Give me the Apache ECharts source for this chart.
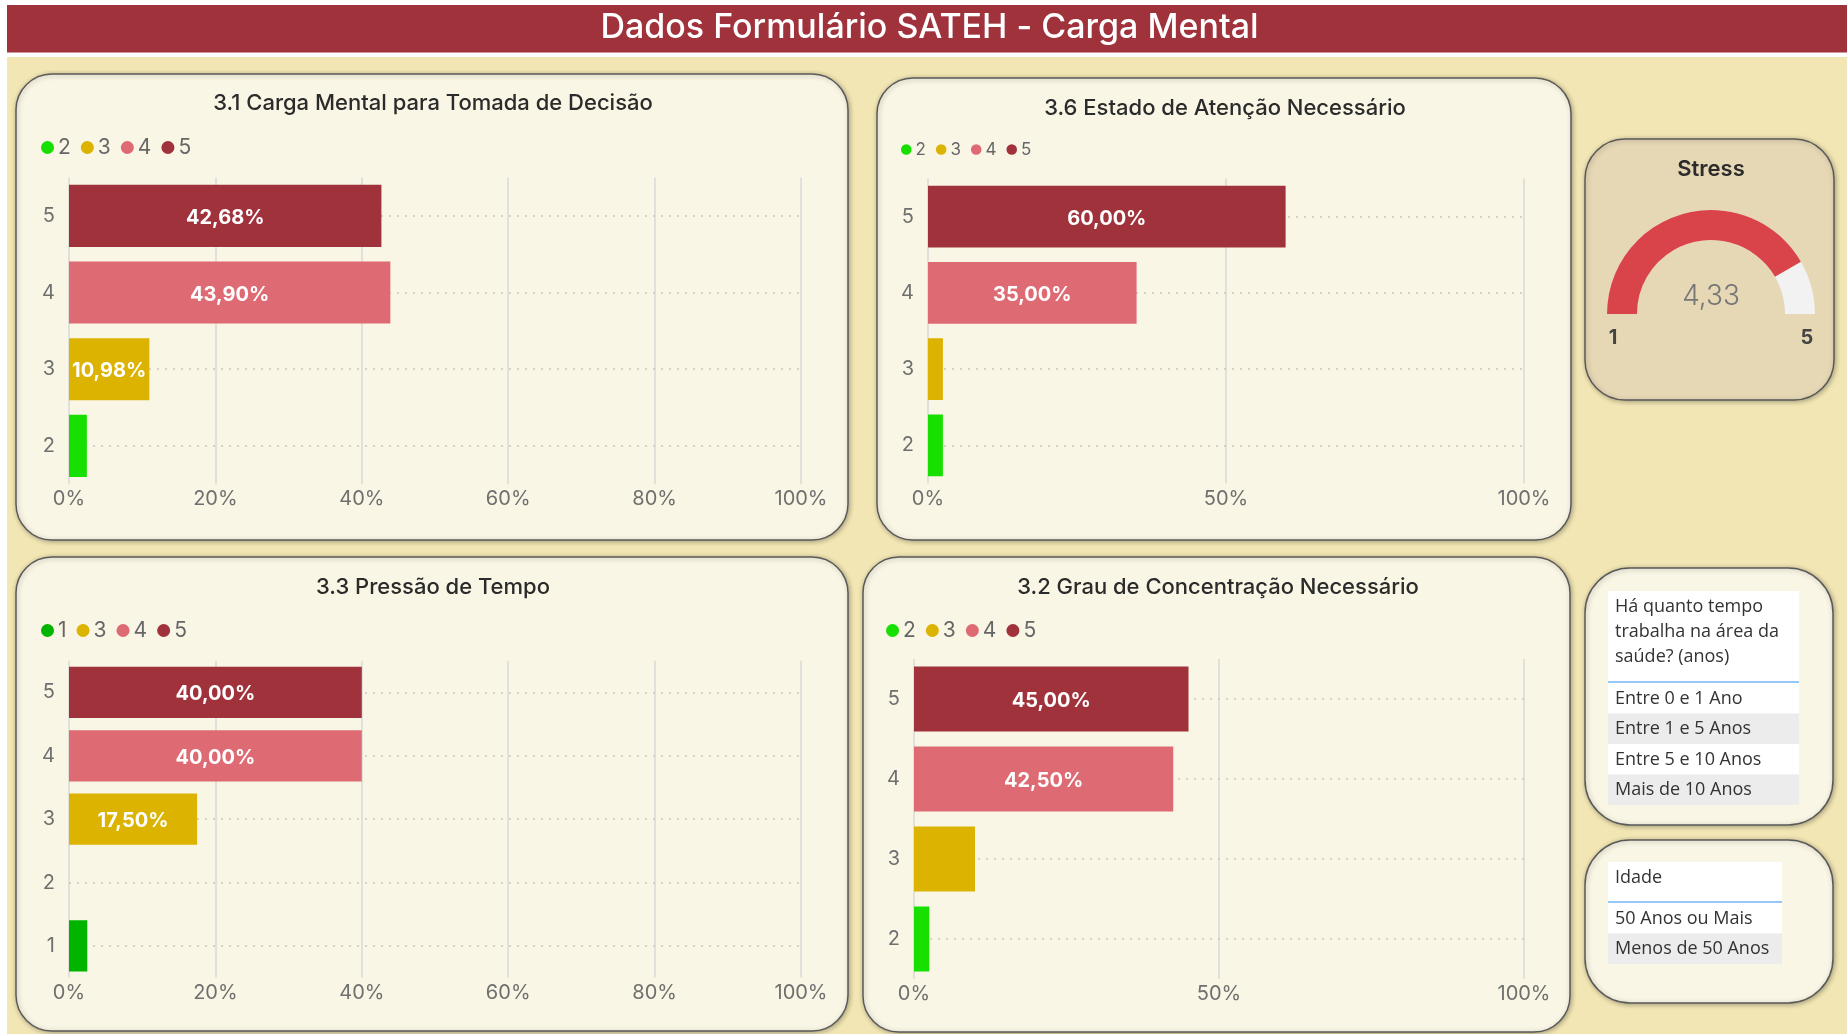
<!DOCTYPE html>
<html>
<head>
<meta charset="utf-8">
<title>Dados Formulário SATEH - Carga Mental</title>
<script src="https://cdn.jsdelivr.net/npm/echarts@6.0.0/dist/echarts.min.js"></script>
<style>
html, body { margin: 0; padding: 0; background: #fff; }
#main { width: 1847px; height: 1034px; }
</style>
</head>
<body>
<div id="main"></div>
<script>
// dados dos graficos (percentuais)
var cats31 = ['5', '4', '3', '2'];
var vals31 = [42.68, 43.90, 10.98, 2.44];
var leg31 = ['2', '3', '4', '5'];

var cats36 = ['5', '4', '3', '2'];
var vals36 = [60.00, 35.00, 2.50, 2.50];
var leg36 = ['2', '3', '4', '5'];

var cats33 = ['5', '4', '3', '2', '1'];
var vals33 = [40.00, 40.00, 17.50, null, 2.50];
var leg33 = ['1', '3', '4', '5'];

var cats32 = ['5', '4', '3', '2'];
var vals32 = [45.00, 42.50, 10.00, 2.50];
var leg32 = ['2', '3', '4', '5'];

var stressMin = 1, stressMax = 5, stressValue = 4.33;

var tempoTitulo = 'Há quanto tempo\ntrabalha na área da\nsaúde? (anos)';
var tempoOpcoes = ['Entre 0 e 1 Ano', 'Entre 1 e 5 Anos', 'Entre 5 e 10 Anos', 'Mais de 10 Anos'];
var idadeTitulo = 'Idade';
var idadeOpcoes = ['50 Anos ou Mais', 'Menos de 50 Anos'];

var cores = { '1': '#00B400', '2': '#17E000', '3': '#DBB300', '4': '#DE6A73', '5': '#A0323C' };
var fonte = 'Inter, Roboto, sans-serif';
var fonteSlicer = '"Open Sans", "Noto Sans", sans-serif';

function fmt(v) { return v.toFixed(2).replace('.', ',') + '%'; }

var charts = [
	{ title: '3.1 Carga Mental para Tomada de Decisão', tx: 433, ty: 103, cats: cats31, vals: vals31, leg: leg31,
	  left: 69, top: 177.5, width: 732, height: 306.7, interval: 20, lx: 41, ly: 137, lfs: 21, lgap: 10 },
	{ title: '3.6 Estado de Atenção Necessário', tx: 1225, ty: 108, cats: cats36, vals: vals36, leg: leg36,
	  left: 928, top: 178.5, width: 596, height: 305, interval: 50, lx: 901, ly: 141, lfs: 17, lgap: 10 },
	{ title: '3.3 Pressão de Tempo', tx: 433, ty: 587, cats: cats33, vals: vals33, leg: leg33,
	  left: 69, top: 660.8, width: 732, height: 316.7, interval: 20, lx: 41, ly: 620, lfs: 21, lgap: 10 },
	{ title: '3.2 Grau de Concentração Necessário', tx: 1218, ty: 587, cats: cats32, vals: vals32, leg: leg32,
	  left: 914, top: 659, width: 610, height: 320, interval: 50, lx: 886, ly: 620, lfs: 21, lgap: 10 }
];

var grids = [], xAxes = [], yAxes = [], series = [], legends = [];
var elementos = [
	{ type: 'rect', z: -10, shape: { x: 7, y: 5, width: 1840, height: 47.5 }, style: { fill: '#A0323C' } },
	{ type: 'rect', z: -10, shape: { x: 7, y: 57, width: 1840, height: 977 }, style: { fill: '#F2E6B4' } },
	{ type: 'text', z: 10, x: 929.5, y: 28, style: { text: 'Dados Formulário SATEH - Carga Mental', fill: '#fff',
	  fontSize: 34, fontWeight: 500, fontFamily: fonte, align: 'center', verticalAlign: 'middle' } }
];

function painel(x, y, w, h, r, cor) {
	elementos.push({ type: 'rect', z: -5, shape: { x: x, y: y, width: w, height: h, r: r },
		style: { fill: cor, stroke: '#5a5a5a', lineWidth: 1.5, shadowBlur: 5, shadowColor: 'rgba(0,0,0,0.3)', shadowOffsetX: 1, shadowOffsetY: 1 } });
}
painel(16, 74, 832, 466, 36, '#FAF6E5');
painel(877, 78, 694, 462, 36, '#FAF6E5');
painel(16, 557, 832, 474, 36, '#FAF6E5');
painel(863, 557, 707, 475, 36, '#FAF6E5');
painel(1585, 139, 249, 261, 40, '#E6D8B5');
painel(1585, 568, 248, 257, 45, '#FAF6E5');
painel(1585, 840, 248, 163, 45, '#FAF6E5');

charts.forEach(function (c, i) {
	grids.push({ left: c.left, top: c.top, width: c.width, height: c.height });
	xAxes.push({
		gridIndex: i, type: 'value', min: 0, max: 100, interval: c.interval,
		axisLine: { show: false }, axisTick: { show: false },
		axisLabel: { formatter: '{value}%', color: '#6f6f6f', fontSize: 20, fontFamily: fonte, margin: 5 },
		splitLine: { lineStyle: { color: '#D9D9D6', width: 1.5 } }
	});
	yAxes.push({
		gridIndex: i, type: 'category', inverse: true, data: c.cats,
		axisLine: { show: false }, axisTick: { show: false },
		axisLabel: { color: '#6f6f6f', fontSize: 20, fontFamily: fonte, margin: 14 },
		splitLine: { show: false }
	});
	// linhas pontilhadas no centro das categorias
	series.push({
		type: 'line', xAxisIndex: i, yAxisIndex: i, data: [], z: 1, silent: true,
		markLine: { silent: true, z: 1, symbol: 'none', label: { show: false },
			lineStyle: { color: '#CBC8BF', type: [2, 6], width: 1.5 },
			data: c.cats.map(function (k) { return { yAxis: k }; }) }
	});
	c.leg.forEach(function (k) {
		series.push({
			name: k, type: 'bar', xAxisIndex: i, yAxisIndex: i, stack: 's' + i, barCategoryGap: '19%', z: 3,
			itemStyle: { color: cores[k] },
			data: c.cats.map(function (cat, j) { return (cat === k && c.vals[j] != null) ? c.vals[j] : '-'; }),
			label: { show: true, position: 'inside', color: '#fff', fontWeight: 'bold', fontSize: 20, fontFamily: fonte,
				offset: [0, 2],
				formatter: function (p) { return p.value / 100 * c.width >= 78 ? fmt(p.value) : ''; } }
		});
	});
	legends.push({
		left: c.lx, top: c.ly, padding: 0, icon: 'circle', itemWidth: c.lfs * 0.62, itemHeight: c.lfs * 0.62, itemGap: c.lgap,
		textStyle: { color: '#666', fontSize: c.lfs, fontFamily: fonte, padding: [0, 0, 0, -1] },
		selectedMode: false,
		data: c.leg.map(function (k) { return { name: k, itemStyle: { color: cores[k] } }; })
	});
	elementos.push({ type: 'text', z: 10, x: c.tx, y: c.ty, style: { text: c.title, fill: '#2b2b2b', fontSize: 22,
		fontWeight: 500, fontFamily: fonte, align: 'center', verticalAlign: 'middle' } });
});

// gauge Stress
series.push({
	type: 'gauge', center: [1711, 314], radius: 104, startAngle: 180, endAngle: 0,
	min: stressMin, max: stressMax, splitNumber: 1,
	axisLine: { lineStyle: { width: 30, color: [[1, '#F2F2F2']] } },
	progress: { show: true, width: 30, itemStyle: { color: '#D9444A' } },
	pointer: { show: false }, anchor: { show: false },
	axisTick: { show: false }, splitLine: { show: false }, axisLabel: { show: false },
	title: { show: false },
	detail: { offsetCenter: [0, -17], fontSize: 28, fontWeight: 300, color: '#777', fontFamily: fonte,
		formatter: function (v) { return v.toFixed(2).replace('.', ','); } },
	data: [{ value: stressValue, name: 'Stress' }]
});
elementos.push({ type: 'text', z: 10, x: 1711, y: 169, style: { text: 'Stress', fill: '#2b2b2b', fontSize: 22,
	fontWeight: 600, fontFamily: fonte, align: 'center', verticalAlign: 'middle' } });
elementos.push({ type: 'text', z: 10, x: 1613, y: 338, style: { text: String(stressMin), fill: '#444', fontSize: 20,
	fontWeight: 'bold', fontFamily: fonte, align: 'center', verticalAlign: 'middle' } });
elementos.push({ type: 'text', z: 10, x: 1807, y: 338, style: { text: String(stressMax), fill: '#444', fontSize: 20,
	fontWeight: 'bold', fontFamily: fonte, align: 'center', verticalAlign: 'middle' } });

// slicers
function slicer(x, y, w, hHead, titulo, opcoes) {
	elementos.push({ type: 'rect', z: -4, shape: { x: x, y: y, width: w, height: hHead }, style: { fill: '#fff' } });
	elementos.push({ type: 'text', z: 10, x: x + 7, y: y + 3.5, style: { text: titulo, fill: '#333', fontSize: 18,
		lineHeight: 25, fontFamily: fonteSlicer, align: 'left', verticalAlign: 'top' } });
	var y0 = y + hHead + 1;
	opcoes.forEach(function (o, j) {
		elementos.push({ type: 'rect', z: -4, shape: { x: x, y: y0 + j * 30.5, width: w, height: 30.5 },
			style: { fill: j % 2 ? '#ECECEC' : '#fff' } });
		elementos.push({ type: 'text', z: 10, x: x + 7, y: y0 + j * 30.5 + 15.5, style: { text: o, fill: '#333', fontSize: 18,
			fontFamily: fonteSlicer, align: 'left', verticalAlign: 'middle' } });
	});
	elementos.push({ type: 'rect', z: -3, shape: { x: x, y: y + hHead - 1, width: w, height: 2 }, style: { fill: '#95C8F5' } });
}
slicer(1608, 591, 191, 91, tempoTitulo, tempoOpcoes);
slicer(1608, 862, 174, 40, idadeTitulo, idadeOpcoes);

var chart = echarts.init(document.getElementById('main'));
chart.setOption({
	animation: false,
	backgroundColor: '#fff',
	grid: grids,
	xAxis: xAxes,
	yAxis: yAxes,
	legend: legends,
	graphic: { elements: elementos },
	series: series
});
</script>
</body>
</html>
